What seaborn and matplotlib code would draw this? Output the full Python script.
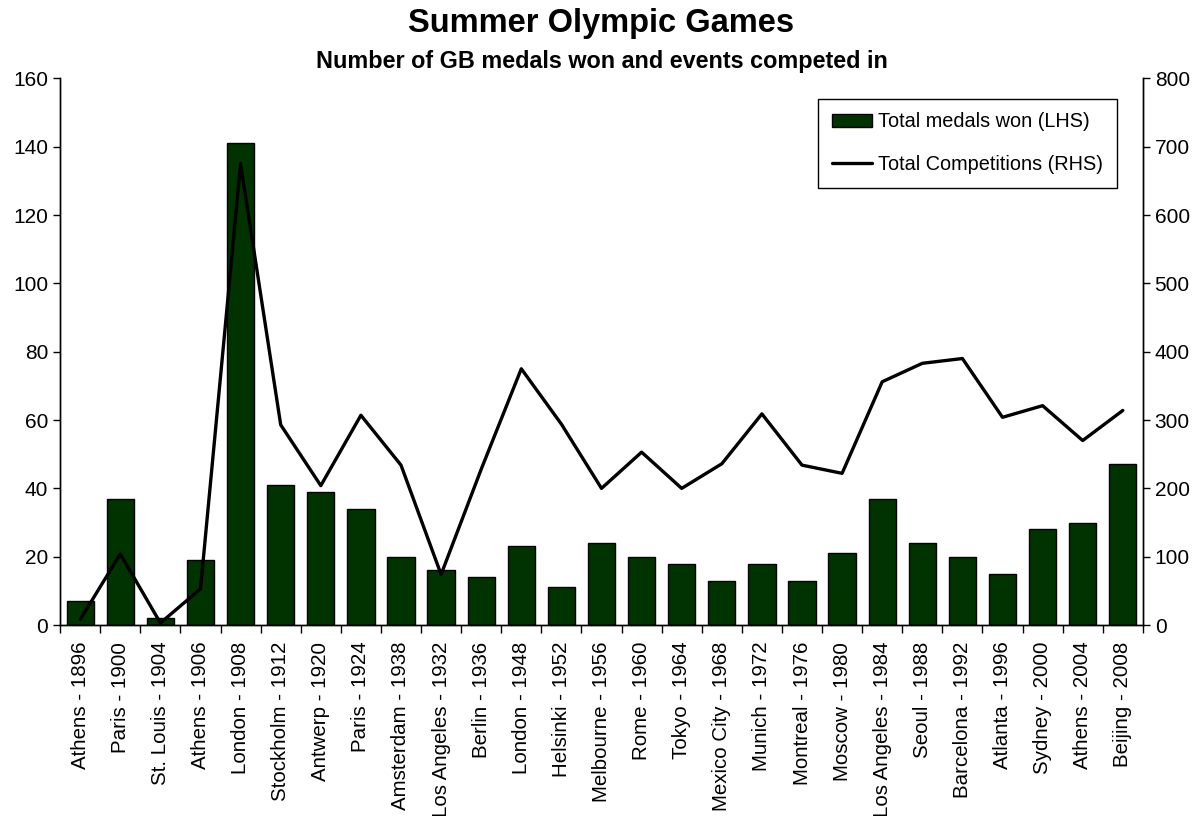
import matplotlib
matplotlib.use('Agg')
import matplotlib.pyplot as plt
import seaborn as sns
import pandas as pd
import numpy as np

# Games as labelled on the original chart
games = ['Athens - 1896', 'Paris - 1900', 'St. Louis - 1904', 'Athens - 1906',
         'London - 1908', 'Stockholm - 1912', 'Antwerp - 1920', 'Paris - 1924',
         'Amsterdam - 1938', 'Los Angeles - 1932', 'Berlin - 1936', 'London - 1948',
         'Helsinki - 1952', 'Melbourne - 1956', 'Rome - 1960', 'Tokyo - 1964',
         'Mexico City - 1968', 'Munich - 1972', 'Montreal - 1976', 'Moscow - 1980',
         'Los Angeles - 1984', 'Seoul - 1988', 'Barcelona - 1992', 'Atlanta - 1996',
         'Sydney - 2000', 'Athens - 2004', 'Beijing - 2008']
medals = [7, 37, 2, 19, 141, 41, 39, 34, 20, 16, 14, 23, 11, 24, 20, 18,
          13, 18, 13, 21, 37, 24, 20, 15, 28, 30, 47]
competitions = [8, 104, 3, 53, 675, 293, 204, 307, 234, 74, 228, 375, 294, 200,
                253, 200, 236, 309, 234, 222, 356, 383, 390, 304, 321, 270, 314]

df = pd.DataFrame({'game': games, 'medals': medals, 'competitions': competitions})
df['pos'] = np.arange(len(df))

sns.set_style('white')
plt.rcParams['font.family'] = ['Liberation Sans', 'DejaVu Sans']
plt.rcParams['text.color'] = 'black'
plt.rcParams['xtick.color'] = 'black'
plt.rcParams['ytick.color'] = 'black'

fig = plt.figure(figsize=(12.03, 8.16), dpi=100)
ax = fig.add_axes([0.05, 0.234, 0.9, 0.67])

sns.barplot(data=df, x='game', y='medals', color='#003300', saturation=1,
            width=0.68, edgecolor='black', linewidth=1, ax=ax,
            label='Total medals won (LHS)')
if ax.get_legend() is not None:
    ax.get_legend().remove()
ax2 = ax.twinx()
sns.lineplot(data=df, x='pos', y='competitions', color='black', linewidth=2.4,
             ax=ax2, label='Total Competitions (RHS)', legend=False)

n = len(df)
ax.set_xlim(-0.5, n - 0.5)
ax.set_ylim(0, 160)
ax2.set_ylim(0, 800)
ax.set_yticks(range(0, 161, 20))
ax2.set_yticks(range(0, 801, 100))
ax.set_xlabel('')
ax.set_ylabel('')
ax2.set_xlabel('')
ax2.set_ylabel('')

ax.set_xticks(df['pos'])
ax.set_xticklabels(df['game'], rotation=90, fontsize=14.8)
ax.set_xticks(np.arange(n + 1) - 0.5, minor=True)
ax.tick_params(axis='x', which='major', length=0, pad=12)
ax.tick_params(axis='x', which='minor', length=6, width=1, color='black', direction='out', bottom=True)
ax.tick_params(axis='y', length=5, width=1, color='black', direction='out', left=True, labelsize=15)
ax2.tick_params(axis='y', length=5, width=1, color='black', direction='out', right=True, labelsize=15)

for a in (ax, ax2):
    a.spines['top'].set_visible(False)
    for s in ('left', 'right', 'bottom'):
        a.spines[s].set_color('black')
        a.spines[s].set_linewidth(1)
ax.grid(False)
ax2.grid(False)

h1, l1 = ax.get_legend_handles_labels()
h2, l2 = ax2.get_legend_handles_labels()
leg = ax2.legend(h1 + h2, l1 + l2, loc='upper right', bbox_to_anchor=(0.976, 0.963),
                 borderaxespad=0, fontsize=14.3, frameon=True, fancybox=False,
                 edgecolor='black', framealpha=1, labelspacing=1.2, handlelength=2.0,
                 handletextpad=0.3, borderpad=0.7)
leg.get_frame().set_linewidth(1)

fig.text(0.5, 0.971, 'Summer Olympic Games', ha='center', va='center',
         fontsize=23.5, fontweight='bold')
fig.text(0.5, 0.925, 'Number of GB medals won and events competed in', ha='center',
         va='center', fontsize=16.8, fontweight='bold')

fig.savefig('out.png', dpi=100)
